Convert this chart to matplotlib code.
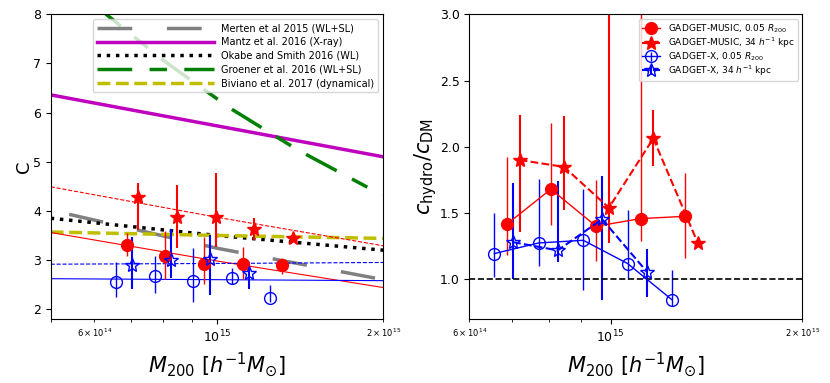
import matplotlib
matplotlib.use("Agg")
import matplotlib.pyplot as plt
import numpy as np

m_rel = [5e14, 1e15, 2e15]
merten_m = [5.4e14, 1e15, 2e15]
merten_c = [3.93, 3.24, 2.60]
mantz_c = [6.36, 5.73, 5.10]
okabe_c = [3.85, 3.50, 3.20]
biviano_c = [3.57, 3.50, 3.44]
groener_m = [6.0e14, 6.3e14, 8.0e14, 1.056e15, 1.4e15, 1.88e15, 2.0e15]
groener_c = [8.22, 8.00, 7.06, 6.09, 5.24, 4.47, 4.34]

# fits to the simulated samples
music_r_fit = [3.56, 2.98, 2.44]
music_34_fit = [4.49, 3.87, 3.29]
x_r_fit = [2.62, 2.60, 2.58]
x_34_fit = [2.915, 2.93, 2.95]

# ---- simulated clusters: masses ----
m_music_r = [6.87e14, 8.06e14, 9.49e14, 1.115e15, 1.31e15]
m_music_34 = [7.2e14, 8.45e14, 9.94e14, 1.167e15, 1.372e15]
m_x_r = [6.57e14, 7.71e14, 9.06e14, 1.064e15, 1.248e15]
m_x_34 = [7.03e14, 8.26e14, 9.7e14, 1.141e15]

# concentrations (left), with lower / upper ends of the error bars
c_music_r = [3.30, 3.08, 2.91, 2.91, 2.89]
c_music_r_lo = [3.08, 2.62, 2.51, 2.62, 2.71]
c_music_r_hi = [3.56, 3.59, 3.46, 3.27, 3.05]
c_music_34 = [4.28, 3.87, 3.88, 3.64, 3.44]
c_music_34_lo = [3.61, 3.25, 3.27, 3.40, 3.40]
c_music_34_hi = [4.56, 4.52, 4.77, 3.85, 3.48]
c_x_r = [2.55, 2.67, 2.58, 2.63, 2.23]
c_x_r_lo = [2.25, 2.33, 2.15, 2.52, 2.14]
c_x_r_hi = [2.96, 3.08, 3.25, 2.83, 2.49]
c_x_34 = [2.89, 3.00, 3.03, 2.74]
c_x_34_lo = [2.42, 2.64, 2.28, 2.42]
c_x_34_hi = [3.47, 3.64, 3.50, 2.96]

# ratio c_hydro / c_DM (right)
r_music_r = [1.415, 1.68, 1.40, 1.458, 1.475]
r_music_r_lo = [1.18, 1.41, 1.14, 1.29, 1.16]
r_music_r_hi = [1.92, 2.18, 1.75, 3.20, 1.80]
r_music_34 = [1.90, 1.848, 1.54, 2.063, 1.27]
r_music_34_lo = [1.357, 1.52, 1.27, 1.853, 1.25]
r_music_34_hi = [2.24, 2.23, 3.20, 2.277, 1.29]
r_x_r = [1.194, 1.274, 1.294, 1.118, 0.846]
r_x_r_lo = [1.02, 1.10, 0.92, 1.00, 0.80]
r_x_r_hi = [1.50, 1.76, 1.685, 1.52, 1.07]
r_x_34 = [1.28, 1.218, 1.453, 1.055]
r_x_34_lo = [1.00, 1.13, 0.84, 0.865]
r_x_34_hi = [1.727, 1.74, 1.78, 1.23]

labels = ['GADGET-MUSIC, 0.05 $R_{200}$', 'GADGET-MUSIC, 34 $h^{-1}$ kpc',
          'GADGET-X, 0.05 $R_{200}$', 'GADGET-X, 34 $h^{-1}$ kpc']


def yerr(v, lo, hi):
    v = np.array(v)
    return [v - np.array(lo), np.array(hi) - v]


fig = plt.figure(figsize=(8.3, 3.83), dpi=100)
ax1 = fig.add_axes([0.0611, 0.1671, 0.4007, 0.7956])
ax2 = fig.add_axes([0.5654, 0.1671, 0.4012, 0.7956])

# ---------------- left panel ----------------
lw = 2.5
ax1.plot(merten_m, merten_c, color='gray', lw=lw, dashes=(10, 10),
         label='Merten et al 2015 (WL+SL)')
ax1.plot(m_rel, mantz_c, color='m', lw=lw, label='Mantz et al. 2016 (X-ray)')
ax1.plot(m_rel, okabe_c, 'k:', lw=lw, label='Okabe and Smith 2016 (WL)')
ax1.plot(groener_m, groener_c, color='g', lw=lw, dashes=(10, 5, 5, 5),
         label='Groener et al. 2016 (WL+SL)')
ax1.plot(m_rel, biviano_c, 'y--', lw=lw, label='Biviano et al. 2017 (dynamical)')

ax1.plot(m_rel, music_r_fit, 'r-', lw=0.8)
ax1.plot(m_rel, music_34_fit, 'r--', lw=0.8)
ax1.plot(m_rel, x_r_fit, 'b-', lw=0.8)
ax1.plot(m_rel, x_34_fit, 'b--', lw=0.8)

ax1.errorbar(m_music_r, c_music_r, yerr=yerr(c_music_r, c_music_r_lo, c_music_r_hi),
             fmt='o', color='r', ms=8.5, elinewidth=1)
ax1.errorbar(m_music_34, c_music_34, yerr=yerr(c_music_34, c_music_34_lo, c_music_34_hi),
             fmt='*', color='r', ms=10.5, elinewidth=1.5)
ax1.errorbar(m_x_r, c_x_r, yerr=yerr(c_x_r, c_x_r_lo, c_x_r_hi),
             fmt='o', color='b', mfc='none', ms=8.5, elinewidth=1)
ax1.errorbar(m_x_34, c_x_34, yerr=yerr(c_x_34, c_x_34_lo, c_x_34_hi),
             fmt='*', color='b', mfc='none', ms=10.5, elinewidth=1.5)

ax1.set_xscale('log')
ax1.set_xlim(5e14, 2e15)
ax1.set_ylim(1.8, 8)
ax1.set_ylabel('C', fontsize=13, labelpad=0)
ax1.set_xlabel(r'$M_{200}$ $[h^{-1}M_{\odot}]$', fontsize=15)
ax1.legend(loc='upper right', fontsize=7, handlelength=12, labelspacing=0.4)

# ---------------- right panel ----------------
ax2.errorbar(m_music_r, r_music_r, yerr=yerr(r_music_r, r_music_r_lo, r_music_r_hi),
             fmt='o-', color='r', ms=8.5, lw=1, elinewidth=1, label=labels[0])
ax2.errorbar(m_music_34, r_music_34, yerr=yerr(r_music_34, r_music_34_lo, r_music_34_hi),
             fmt='*--', color='r', ms=10.5, lw=1.5, elinewidth=1.5, label=labels[1])
ax2.errorbar(m_x_r, r_x_r, yerr=yerr(r_x_r, r_x_r_lo, r_x_r_hi),
             fmt='o-', color='b', mfc='none', ms=8.5, lw=1, elinewidth=1, label=labels[2])
ax2.errorbar(m_x_34, r_x_34, yerr=yerr(r_x_34, r_x_34_lo, r_x_34_hi),
             fmt='*--', color='b', mfc='none', ms=10.5, lw=1.5, elinewidth=1.5, label=labels[3])
ax2.axhline(1.0, color='k', ls='--', lw=1.2)

ax2.set_xscale('log')
ax2.set_xlim(6e14, 2e15)
ax2.set_ylim(0.7, 3.0)
ax2.set_ylabel(r'$c_{\rm hydro}/c_{\rm DM}$', fontsize=15, labelpad=0.5)
ax2.set_xlabel(r'$M_{200}$ $[h^{-1}M_{\odot}]$', fontsize=15)
ax2.legend(loc='upper right', fontsize=6.5, labelspacing=0.05)

for ax in (ax1, ax2):
    ax.tick_params(axis='both', which='major', labelsize=9)
    ax.tick_params(axis='x', which='minor', labelsize=6)

fig.savefig('out.png', dpi=100)
